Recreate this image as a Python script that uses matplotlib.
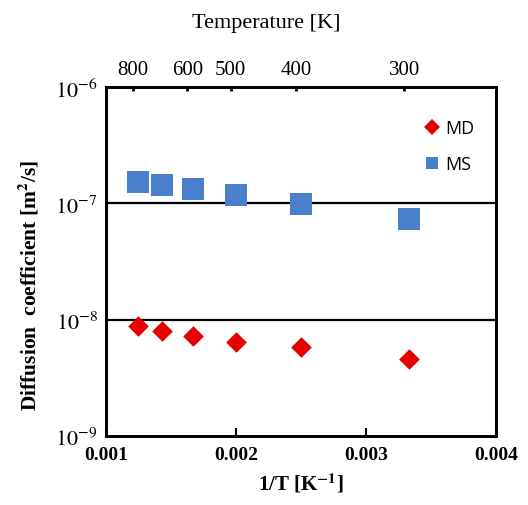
import matplotlib
matplotlib.use("Agg")
import matplotlib.pyplot as plt
import numpy as np
from matplotlib.lines import Line2D

# Data
temperatures = [800, 700, 600, 500, 400, 300]
ms_values = [1.52e-7, 1.43e-7, 1.32e-7, 1.17e-7, 0.98e-7, 0.74e-7]
md_values = [8.8e-9, 8.0e-9, 7.2e-9, 6.45e-9, 5.8e-9, 4.6e-9]
top_tick_temps = [800, 600, 500, 400, 300]
x_ticks = [0.001, 0.002, 0.003, 0.004]
x_tick_labels = ["0.001", "0.002", "0.003", "0.004"]
y_ticks = [1e-9, 1e-8, 1e-7, 1e-6]

plt.rcParams['mathtext.fontset'] = 'stix'
serif = 'Liberation Serif'

inv_T = [1.0 / t for t in temperatures]

fig = plt.figure(figsize=(5.28, 5.06), dpi=100)
ax = fig.add_axes([106/528, 1 - 437/506, 390/528, 349/506])

red = '#e60000'
blue = '#4a7fcb'

ax.scatter(inv_T, ms_values, marker='s', s=15.5**2, color=blue, zorder=3, linewidths=0)
ax.scatter(inv_T, md_values, marker='D', s=10.5**2, color=red, zorder=3, linewidths=0)

ax.set_yscale('log')
ax.set_xlim(0.001, 0.004)
ax.set_ylim(1e-9, 1e-6)

for yv in [1e-8, 1e-7]:
    ax.axhline(yv, color='black', lw=1.6, zorder=2)

ax.set_xticks(x_ticks)
ax.set_xticklabels(x_tick_labels, fontfamily=serif, fontweight='bold', fontsize=14)
ax.set_yticks(y_ticks)
ax.set_yticklabels([r'$10^{%d}$' % int(np.log10(v)) for v in y_ticks], fontsize=16)
ax.yaxis.set_minor_locator(matplotlib.ticker.NullLocator())
ax.tick_params(axis='x', direction='in', length=6, width=1.5, pad=7)
ax.tick_params(axis='y', direction='in', length=0, width=1.5, pad=6)
for s in ax.spines.values():
    s.set_linewidth(2)

ax.set_xlabel(r'1/T [K$^{\mathbf{-1}}$]', fontfamily=serif, fontweight='bold', fontsize=15, labelpad=6)
ax.set_ylabel(r'Diffusion  coefficient [m$^{\mathbf{2}}$/s]', fontfamily=serif, fontweight='bold', fontsize=15.5)
ax.yaxis.set_label_coords(-0.165, 0.435)

# Top axis: Temperature
ax2 = ax.twiny()
ax2.set_xlim(0.001 + 0.00004, 0.004 + 0.00004)
ax2.set_xticks([1.0 / t for t in top_tick_temps])
ax2.set_xticklabels([str(t) for t in top_tick_temps], fontfamily=serif, fontsize=15)
ax2.tick_params(axis='x', direction='in', length=3, width=2, pad=6)
for s in ax2.spines.values():
    s.set_linewidth(2)
fig.text(266/528, 1 - 24/506, 'Temperature [K]', fontfamily=serif, fontsize=16,
         ha='center', va='center')

handles = [
    Line2D([], [], marker='D', color=red, linestyle='none', markersize=8, markeredgewidth=0, label='MD'),
    Line2D([], [], marker='s', color=blue, linestyle='none', markersize=9, markeredgewidth=0, label='MS'),
]
ax.legend(handles=handles, loc='upper right', bbox_to_anchor=(0.985, 0.955), frameon=False,
          prop={'family': 'Open Sans', 'size': 13}, handletextpad=0.1, labelspacing=1.0,
          handlelength=1.2)

fig.savefig('out.png', dpi=100)
